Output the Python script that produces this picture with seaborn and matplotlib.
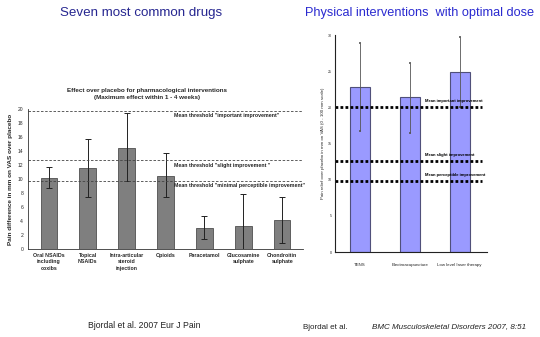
import matplotlib
matplotlib.use("Agg")
import matplotlib.pyplot as plt
import seaborn as sns
import pandas as pd
import numpy as np

sns.set_theme(style="white")
plt.rcParams['font.family'] = ['Liberation Sans', 'DejaVu Sans']

# --- Pharmacological interventions (left panel) ---
drug_labels = ["Oral NSAIDs\nincluding\ncoxibs", "Topical\nNSAIDs", "Intra-articular\nsteroid\ninjection",
               "Opioids", "Paracetamol", "Glucosamine\nsulphate", "Chondroitin\nsulphate"]
drug_mean = [10.2, 11.6, 14.5, 10.5, 3.0, 3.3, 4.2]
drug_upper = [11.8, 15.8, 19.4, 13.8, 4.7, 7.8, 7.5]
drug_lower = [8.8, 7.5, 9.8, 7.4, 1.4, -0.8, 0.8]
drug_thresholds = [19.8, 12.7, 9.8]
drug_threshold_text = ['Mean threshold "important improvement"',
                       'Mean threshold "slight improvement "',
                       'Mean threshold "minimal perceptible improvement"']
drug_yticks = [0, 2, 4, 6, 8, 10, 12, 14, 16, 18, 20]

# --- Physical interventions (right panel) ---
phys_labels = ["TENS", "Electroacupuncture", "Low level laser therapy"]
phys_mean = [22.8, 21.4, 24.9]
phys_upper = [28.9, 26.1, 29.7]
phys_lower = [16.7, 16.4, 20.0]
phys_thresholds = [20.0, 12.6, 9.8]
phys_threshold_text = ["Mean important improvement", "Mean slight improvement", "Mean perceptible improvement"]
phys_yticks = [0, 5, 10, 15, 20, 25, 30]

fig = plt.figure(figsize=(5.4, 3.37), dpi=100)
fig.patch.set_facecolor("white")

# Slide headings
fig.text(0.261, 0.962, "Seven most common drugs", ha="center", va="center",
         fontsize=9.6, color="#262690")
fig.text(0.777, 0.962, "Physical interventions  with optimal dose", ha="center", va="center",
         fontsize=9.2, color="#2a2ad0")

# ---------------- left chart ----------------
axL = fig.add_axes([0.052, 0.261, 0.509, 0.415])
dfL = pd.DataFrame({"drug": drug_labels, "effect": drug_mean})
sns.barplot(data=dfL, x="drug", y="effect", color="#7f7f7f", saturation=1,
            width=0.42, edgecolor="#505050", linewidth=0.6, errorbar=None, ax=axL)
xs = np.arange(len(drug_labels))
m = np.array(drug_mean)
axL.errorbar(xs, m, yerr=[m - np.array(drug_lower), np.array(drug_upper) - m],
             fmt="none", ecolor="#222222", elinewidth=0.7, capsize=2.2, capthick=0.7)
for t, lbl in zip(drug_thresholds, drug_threshold_text):
    axL.axhline(t, color="#444444", linestyle=(0, (3, 2)), linewidth=0.6, xmin=0, xmax=1, clip_on=False)
    axL.text(3.22, t - 0.35, lbl, fontsize=3.8, fontweight="bold", va="top", ha="left", color="#222222")
axL.set_xlim(-0.53, 6.53)
axL.set_ylim(0, 20)
axL.set_yticks(drug_yticks)
axL.set_yticklabels([str(v) for v in drug_yticks], fontsize=3.6)
axL.set_xticks(xs)
axL.set_xticklabels(drug_labels, fontsize=3.8, fontweight="bold", linespacing=1.3)
axL.set_xticks(np.arange(-0.5, 7, 1), minor=True)
axL.tick_params(axis="x", which="major", length=0, pad=3)
axL.tick_params(axis="x", which="minor", length=2, width=0.5, color="#333333")
axL.tick_params(axis="y", length=2, width=0.5, color="#333333", pad=1.5)
axL.set_xlabel("")
axL.set_ylabel("Pain difference in mm on VAS over placebo", fontsize=4.6, fontweight="bold", labelpad=3)
sns.despine(ax=axL)
for s in ("left", "bottom"):
    axL.spines[s].set_linewidth(0.6)
    axL.spines[s].set_color("#333333")
axL.text(0.433, 1.11, "Effect over placebo for pharmacological interventions\n(Maximum effect within 1 - 4 weeks)",
         transform=axL.transAxes, fontsize=4.5, fontweight="bold", ha="center", va="center",
         linespacing=1.5)

# ---------------- right chart ----------------
axR = fig.add_axes([0.620, 0.252, 0.281, 0.644])
dfR = pd.DataFrame({"intervention": phys_labels, "effect": phys_mean})
sns.barplot(data=dfR, x="intervention", y="effect", color="#9a9aff", saturation=1,
            width=0.4, edgecolor="#50507a", linewidth=0.8, errorbar=None, ax=axR)
xr = np.arange(len(phys_labels))
mr = np.array(phys_mean)
axR.errorbar(xr, mr, yerr=[mr - np.array(phys_lower), np.array(phys_upper) - mr],
             fmt="none", ecolor="#555555", elinewidth=0.6, capsize=0.8, capthick=1.2)
for t, lbl in zip(phys_thresholds, phys_threshold_text):
    axR.plot([-0.5, 2.45], [t, t], color="black", linestyle=(0, (1, 0.8)), linewidth=2.0)
    axR.text(1.3, t + 0.6, lbl, fontsize=3.0, fontweight="bold", va="bottom", ha="left", color="black",
             fontstretch="condensed")
axR.set_xlim(-0.5, 2.54)
axR.set_ylim(0, 30)
axR.set_yticks(phys_yticks)
axR.set_yticklabels([str(v) for v in phys_yticks], fontsize=2.6)
axR.set_xticks(xr)
axR.set_xticklabels(phys_labels, fontsize=3.2)
axR.set_xticks([1.5, 2.54], minor=True)
axR.tick_params(axis="x", which="major", length=0, pad=8)
axR.tick_params(axis="x", which="minor", length=2, width=0.5)
axR.tick_params(axis="y", length=1.5, width=0.5, pad=0.8)
axR.set_xlabel("")
axR.set_ylabel("Pain relief over placebo in mm on VAS (0 - 100 mm scale)", fontsize=3.2, labelpad=2)
sns.despine(ax=axR)
for s in ("left", "bottom"):
    axR.spines[s].set_linewidth(0.8)
    axR.spines[s].set_color("#222222")

# References
fig.text(0.163, 0.035, "Bjordal et al. 2007 Eur J Pain", fontsize=6.2, ha="left", va="center", color="#222222")
fig.text(0.561, 0.027, "Bjordal et al.", fontsize=5.8, ha="left", va="center", color="#222222")
fig.text(0.689, 0.032, "BMC Musculoskeletal Disorders 2007, 8:51", fontsize=5.8, style="italic",
         ha="left", va="center", color="#222222")

fig.savefig("out.png", dpi=100, facecolor="white")
